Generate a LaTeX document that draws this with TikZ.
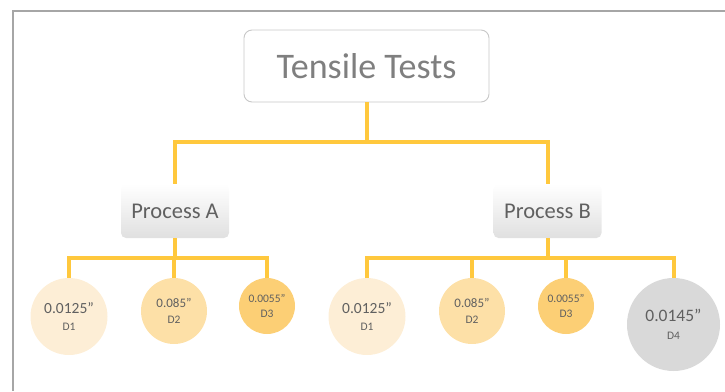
\documentclass[tikz,border=0pt]{standalone}
\usepackage{fontspec}
\setmainfont{Carlito}
\usepackage{tikz}
\usetikzlibrary{positioning,calc}
\usepackage{xcolor}
\definecolor{framegray}{RGB}{166,166,166}
\definecolor{boxgray}{RGB}{200,200,200}
\definecolor{procgray}{RGB}{224,224,224}
\definecolor{titlegray}{RGB}{127,127,127}
\definecolor{textgray}{RGB}{96,96,96}
\definecolor{linkyellow}{RGB}{255,200,61}
\definecolor{diaone}{RGB}{253,238,214}
\definecolor{diatwo}{RGB}{253,224,167}
\definecolor{diathree}{RGB}{252,207,117}
\definecolor{diafour}{RGB}{217,217,217}
\newcommand{\dtext}[4]{\fontsize{#1}{#1}\selectfont #2\\[#4]\fontsize{11.5}{12}\selectfont #3}

\begin{document}
\begin{tikzpicture}[x=1pt,y=-1pt,
  link/.style={draw=linkyellow, line width=4pt},
  rootbox/.style={draw=boxgray, fill=white, line width=0.9pt, rounded corners=8pt, minimum width=245pt, minimum height=72pt, text=titlegray},
  procbox/.style={rounded corners=5pt, top color=white, bottom color=procgray, minimum width=108pt, minimum height=54pt, text=textgray},
  dia/.style={circle, inner sep=0pt, text=textgray, align=center}]
\useasboundingbox (0,0) rectangle (725,391);
\draw[framegray, line width=2pt] (12.5,391) -- (12.5,10.5) -- (725,10.5);

\node[rootbox] (root) at (366.5,66) {\fontsize{36}{40}\selectfont Tensile Tests};
\node[procbox] (procA) at (175,211) {\fontsize{22.5}{26}\selectfont Process A};
\node[procbox] (procB) at (547.5,211) {\fontsize{22.5}{26}\selectfont Process B};

% diameters under process A
\node[dia, fill=diaone, minimum size=77pt] (a1) at (69,316.5) {\dtext{15.5}{0.0125”}{D1}{5pt}};
\node[dia, fill=diatwo, minimum size=66pt] (a2) at (174,311) {\dtext{13}{0.085”}{D2}{4pt}};
\node[dia, fill=diathree, minimum size=56pt] (a3) at (267,306) {\dtext{11.5}{0.0055”}{D3}{2.5pt}};
% diameters under process B
\node[dia, fill=diaone, minimum size=77pt] (b1) at (367,316.5) {\dtext{15.5}{0.0125”}{D1}{5pt}};
\node[dia, fill=diatwo, minimum size=66pt] (b2) at (472,311) {\dtext{13}{0.085”}{D2}{4pt}};
\node[dia, fill=diathree, minimum size=56pt] (b3) at (566,306) {\dtext{11.5}{0.0055”}{D3}{2.5pt}};
\node[dia, fill=diafour, minimum size=93pt] (b4) at (673.5,324.5) {\dtext{17.5}{0.0145”}{D4}{6pt}};

\coordinate (busT) at (366.5,142);
\coordinate (busA) at (175,258);
\coordinate (busB) at (547.5,258);

\draw[link] (root) -- (busT);
\draw[link] (busT) -| (procA);
\draw[link] (busT) -| (procB);
\draw[link] (procA) -- (busA);
\draw[link] (procB) -- (busB);
\foreach \d in {a1,a2,a3}
  \draw[link] (busA) -| (\d);
\foreach \d in {b1,b2,b3,b4}
  \draw[link] (busB) -| (\d);
\end{tikzpicture}
\end{document}
